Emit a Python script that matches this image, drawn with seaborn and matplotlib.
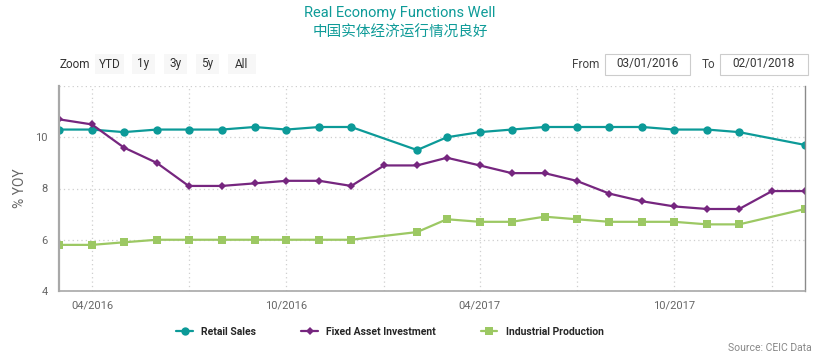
import matplotlib
matplotlib.use("Agg")
import matplotlib.pyplot as plt
from matplotlib.patches import Rectangle
import numpy as np
import pandas as pd
import seaborn as sns

sns.set_theme(style="white")
plt.rcParams["font.family"] = ["Roboto", "Noto Sans CJK SC", "DejaVu Sans"]

# monthly data; retail sales and industrial production have no January value
months = ["2016-03", "2016-04", "2016-05", "2016-06", "2016-07", "2016-08",
          "2016-09", "2016-10", "2016-11", "2016-12", "2017-01", "2017-02",
          "2017-03", "2017-04", "2017-05", "2017-06", "2017-07", "2017-08",
          "2017-09", "2017-10", "2017-11", "2017-12", "2018-01", "2018-02"]
retail_sales = [10.3, 10.3, 10.2, 10.3, 10.3, 10.3, 10.4, 10.3, 10.4, 10.4, np.nan, 9.5,
                10.0, 10.2, 10.3, 10.4, 10.4, 10.4, 10.4, 10.3, 10.3, 10.2, np.nan, 9.7]
fixed_asset = [10.7, 10.5, 9.6, 9.0, 8.1, 8.1, 8.2, 8.3, 8.3, 8.1, 8.9, 8.9,
               9.2, 8.9, 8.6, 8.6, 8.3, 7.8, 7.5, 7.3, 7.2, 7.2, 7.9, 7.9]
industrial = [5.8, 5.8, 5.9, 6.0, 6.0, 6.0, 6.0, 6.0, 6.0, 6.0, np.nan, 6.3,
              6.8, 6.7, 6.7, 6.9, 6.8, 6.7, 6.7, 6.7, 6.6, 6.6, np.nan, 7.2]
series_names = ["Retail Sales", "Fixed Asset Investment", "Industrial Production"]
y_ticks = [4, 6, 8, 10, 12]
y_labels = ["4", "6", "8", "10", ""]

colors = {"Retail Sales": "#0c9a98", "Fixed Asset Investment": "#76267f",
          "Industrial Production": "#9cc863"}
markers = {"Retail Sales": "o", "Fixed Asset Investment": "D",
           "Industrial Production": "s"}
msizes = {"o": 6.0, "D": 4.2, "s": 5.6}

dates = pd.to_datetime(months)
df = pd.concat([
    pd.DataFrame({"date": dates, "value": vals, "series": name})
    for name, vals in zip(series_names, [retail_sales, fixed_asset, industrial])
]).dropna()

fig = plt.figure(figsize=(8.17, 3.55), dpi=100)
ax = fig.add_axes([59 / 817, 1 - 291 / 355, 746 / 817, 205 / 355])

sns.lineplot(data=df, x="date", y="value", hue="series", style="series",
             palette=colors, markers=markers, dashes=False,
             markeredgewidth=0, linewidth=1.6, legend=False, ax=ax)
for line in ax.lines:
    line.set_markersize(msizes.get(line.get_marker(), 5))

ax.set_xlim(dates[0], dates[-1])
ax.set_ylim(4, 12)
ax.set_yticks(y_ticks)
ax.set_yticklabels(y_labels)

quarters = pd.date_range("2016-04-01", "2018-01-01", freq="QS")
ax.set_xticks(quarters)
ax.set_xticklabels([d.strftime("%m/%Y") if d.month in (4, 10) else "" for d in quarters])

ax.grid(True, axis="both", linestyle=(0, (1, 2.5)), color="#cfcfcf", linewidth=0.9)
ax.tick_params(axis="x", length=7, width=1, color="#ccd6eb", labelsize=8,
               labelcolor="#666666", pad=0)
ax.tick_params(axis="y", length=0, labelsize=8, labelcolor="#666666", pad=8)

for side in ["left", "bottom", "right"]:
    ax.spines[side].set_color("#a8a8a8")
ax.spines["left"].set_linewidth(1.6)
ax.spines["bottom"].set_linewidth(1.2)
ax.spines["right"].set_linewidth(1.0)
ax.spines["right"].set_color("#8a8a8a")
ax.spines["top"].set_visible(False)

ax.set_xlabel("")
ax.set_ylabel("% YOY", fontsize=10, color="#666666", labelpad=6)

# titles
fig.text(400 / 817, 1 - 13 / 355, "Real Economy Functions Well", ha="center",
         va="center", fontsize=10.5, color="#0e9b98")
fig.text(400 / 817, 1 - 33 / 355, "中国实体经济运行情况良好", ha="center",
         va="center", fontsize=10.5, color="#0e9b98",
         family=["Noto Sans CJK SC", "DejaVu Sans"])

# range selector
fig.text(60 / 817, 1 - 64 / 355, "Zoom", ha="left", va="center", fontsize=8.5,
         color="#333333")
buttons = [("YTD", 95, 124), ("1y", 132, 155), ("3y", 164, 187),
           ("5y", 196, 219), ("All", 228, 256)]
for label, x0, x1 in buttons:
    fig.patches.append(Rectangle((x0 / 817, 1 - 74 / 355), (x1 - x0) / 817, 20 / 355,
                                 transform=fig.transFigure, facecolor="#f7f7f7",
                                 edgecolor="none"))
    fig.text((x0 + x1) / 2 / 817, 1 - 64 / 355, label, ha="center", va="center",
             fontsize=8.5, color="#333333")

fig.text(572 / 817, 1 - 64 / 355, "From", ha="left", va="center", fontsize=8.5,
         color="#444444")
fig.text(702 / 817, 1 - 64 / 355, "To", ha="left", va="center", fontsize=8.5,
         color="#444444")
for txt, x0, x1 in [("03/01/2016", 605, 690), ("02/01/2018", 720, 808)]:
    fig.patches.append(Rectangle((x0 / 817, 1 - 75 / 355), (x1 - x0) / 817, 21 / 355,
                                 transform=fig.transFigure, facecolor="white",
                                 edgecolor="#cccccc", linewidth=0.8))
    fig.text((x0 + x1) / 2 / 817, 1 - 64 / 355, txt, ha="center", va="center",
             fontsize=8.5, color="#333333")

# legend
handles = [plt.Line2D([], [], color=colors[n], marker=markers[n], linewidth=1.6,
                      markersize=msizes[markers[n]], markeredgewidth=0)
           for n in series_names]
fig.legend(handles, series_names, loc="center", bbox_to_anchor=(390 / 817, 1 - 332 / 355),
           ncol=3, frameon=False, handlelength=1.6, columnspacing=4.3,
           handletextpad=0.8, prop={"weight": "bold", "size": 7.5})

fig.text(812 / 817, 1 - 348 / 355, "Source: CEIC Data", ha="right", va="center",
         fontsize=7.5, color="#888888")

fig.savefig("out.png", dpi=100)
